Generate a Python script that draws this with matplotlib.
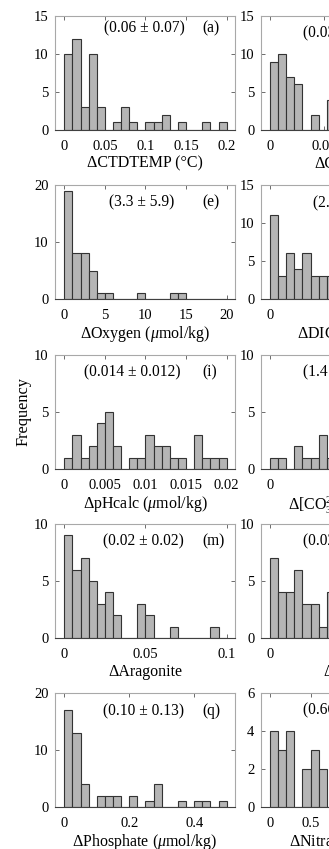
import matplotlib
matplotlib.use("Agg")
import matplotlib.pyplot as plt
import numpy as np

# MATLAB-like look: Times style serif text
plt.rcParams['font.family'] = ['Liberation Serif', 'DejaVu Serif']
plt.rcParams['mathtext.fontset'] = 'custom'
plt.rcParams['mathtext.rm'] = 'Liberation Serif'
plt.rcParams['mathtext.it'] = 'Liberation Serif:italic'

# histogram counts (right column only the visible bins)
ctdtemp_counts = [10, 12, 3, 10, 3, 0, 1, 3, 1, 0, 1, 1, 2, 0, 1, 0, 0, 1, 0, 1]
ctdsal_counts = [9, 10, 7, 6, 0, 2, 0, 4]
oxygen_counts = [19, 8, 8, 5, 1, 1, 0, 0, 0, 1, 0, 0, 0, 1, 1, 0, 0, 0, 0, 0]
dic_counts = [11, 3, 6, 4, 6, 3, 3, 3]
phcalc_counts = [1, 3, 1, 2, 4, 5, 2, 0, 1, 1, 3, 2, 2, 1, 1, 0, 3, 1, 1, 1]
co3_counts = [1, 1, 0, 2, 1, 1, 3, 1]
aragonite_counts = [9, 6, 7, 5, 3, 4, 2, 0, 0, 3, 2, 0, 0, 1, 0, 0, 0, 0, 1, 0]
calcite_counts = [7, 4, 4, 6, 3, 3, 1, 4]
phosphate_counts = [17, 13, 4, 0, 2, 2, 2, 0, 2, 0, 1, 4, 0, 0, 1, 0, 1, 1, 0, 1]
nitrate_counts = [4, 3, 4, 0, 2, 3, 2, 0]

bin_widths = [0.01, 0.0075, 1, 2, 0.001, 0.5, 0.005, 0.005, 0.025, 0.1]
x_ranges = [(0, 0.2), (0, 0.15), (0, 20), (0, 40), (0, 0.02), (0, 10),
            (0, 0.1), (0, 0.1), (0, 0.5), (0, 2)]
x_ticks = [[0, 0.05, 0.1, 0.15, 0.2], [0, 0.05, 0.1, 0.15],
           [0, 5, 10, 15, 20], [0, 20, 40],
           [0, 0.005, 0.01, 0.015, 0.02], [0, 5, 10],
           [0, 0.05, 0.1], [0, 0.05, 0.1],
           [0, 0.2, 0.4], [0, 0.5, 1, 1.5, 2]]
x_ticklabels = [['0', '0.05', '0.1', '0.15', '0.2'], ['0', '0.05', '0.1', '0.15'],
                ['0', '5', '10', '15', '20'], ['0', '20', '40'],
                ['0', '0.005', '0.01', '0.015', '0.02'], ['0', '5', '10'],
                ['0', '0.05', '0.1'], ['0', '0.05', '0.1'],
                ['0', '0.2', '0.4'], ['0', '0.5', '1', '1.5', '2']]
y_ticks = [[0, 5, 10, 15], [0, 5, 10, 15], [0, 10, 20], [0, 5, 10, 15],
           [0, 5, 10], [0, 5, 10], [0, 5, 10], [0, 5, 10],
           [0, 10, 20], [0, 2, 4, 6]]
x_labels = ['ΔCTDTEMP (°C)', 'ΔCTDSAL',
            r'ΔOxygen ($\mu$mol/kg)', r'ΔDIC ($\mu$mol/kg)',
            r'ΔpHcalc ($\mu$mol/kg)', r'Δ[CO$_3^{2\mathrm{-}}$] ($\mu$mol/kg)',
            'ΔAragonite', 'ΔCalcite',
            r'ΔPhosphate ($\mu$mol/kg)', r'ΔNitrate ($\mu$mol/kg)']
stat_texts = ['(0.06 ± 0.07)', '(0.03 ± 0.03)', '(3.3 ± 5.9)', '(2.9 ± 2.6)',
              '(0.014 ± 0.012)', '(1.4 ± 1.1)', '(0.02 ± 0.02)', '(0.02 ± 0.02)',
              '(0.10 ± 0.13)', '(0.66 ± 0.52)']
panel_letters = ['(a)', '(b)', '(e)', '(f)', '(i)', '(j)', '(m)', '(n)', '(q)', '(r)']

all_counts = [ctdtemp_counts, ctdsal_counts, oxygen_counts, dic_counts,
              phcalc_counts, co3_counts, aragonite_counts, calcite_counts,
              phosphate_counts, nitrate_counts]

# layout in pixels (figure 329 x 849, right column is cut by the edge)
W, H = 329, 849
col_left = [55, 260.7]
ax_w = 180
row_top = [16, 185, 355, 524, 693]
ax_h = 114

# text placement (axes fraction)
stat_x = [0.494, 0.237, 0.483, 0.289, 0.43, 0.237, 0.489, 0.237, 0.492, 0.237]
stat_ha = ['center', 'left'] * 5
stat_y = [0.893, 0.85, 0.845, 0.843, 0.845, 0.85, 0.845, 0.85, 0.84, 0.85]

fig = plt.figure(figsize=(W / 100, H / 100), dpi=100)

for i in range(10):
    row = i // 2
    col = i % 2
    ax = fig.add_axes([col_left[col] / W, 1 - (row_top[row] + ax_h) / H,
                       ax_w / W, ax_h / H])
    counts = np.array(all_counts[i])
    bw = bin_widths[i]
    x0, x1 = x_ranges[i]
    edges = x0 + bw * np.arange(len(counts))
    ax.bar(edges, counts, width=bw, align='edge', color='#b5b5b5',
           edgecolor='#333333', linewidth=0.8, zorder=2)
    r = x1 - x0
    ax.set_xlim(x0 - 0.057 * r, x1 + 0.051 * r)
    ax.set_ylim(0, y_ticks[i][-1])
    ax.set_xticks(x_ticks[i])
    ax.set_xticklabels(x_ticklabels[i])
    ax.set_yticks(y_ticks[i])
    ax.tick_params(direction='in', length=3, width=0.6, color='#555555',
                   top=True, right=True, labelsize=10.5, pad=4.5)
    ax.tick_params(axis='x', pad=7.5)
    for s in ['left', 'top', 'right']:
        ax.spines[s].set_color('#a8a8a8')
        ax.spines[s].set_linewidth(0.8)
    ax.spines['bottom'].set_color('#404040')
    ax.spines['bottom'].set_linewidth(0.8)
    ax.set_xlabel(x_labels[i], fontsize=11.5, labelpad=1.5)
    ax.text(stat_x[i], stat_y[i], stat_texts[i], transform=ax.transAxes,
            ha=stat_ha[i], va='center', fontsize=11.2)
    ax.text(0.82, stat_y[i], panel_letters[i], transform=ax.transAxes,
            ha='left', va='center', fontsize=11.2)
    if i == 4:
        ax.set_ylabel('Frequency', fontsize=11.7, labelpad=2)

fig.savefig('out.png', dpi=100)
